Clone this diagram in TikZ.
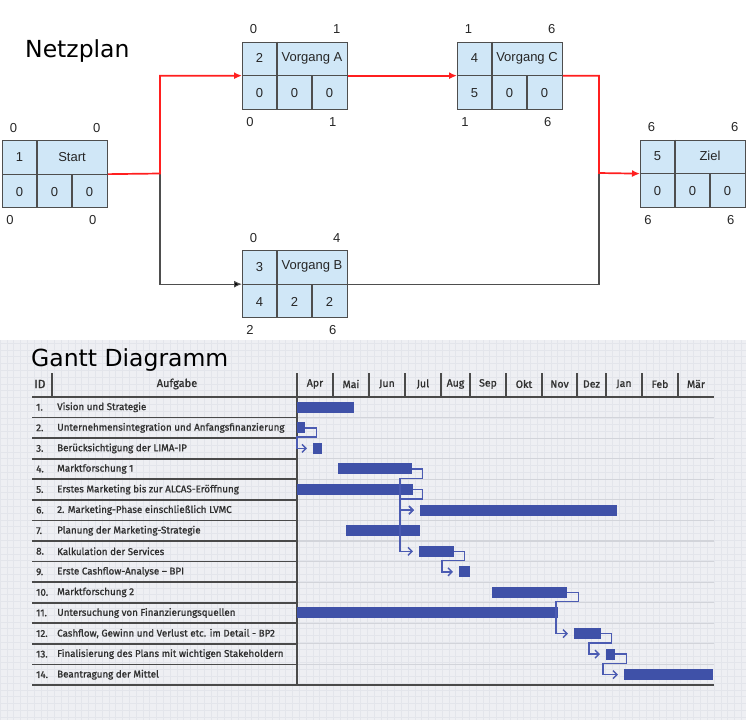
\documentclass[tikz,border=0pt]{standalone}
\usepackage{fontspec}
\usetikzlibrary{arrows.meta,calc}
\newfontfamily\titlefont{DejaVu Sans}
\newfontfamily\boxfont{Liberation Sans}
\newfontfamily\ganttfont{Fira Sans}[FakeBold=1.2]
\definecolor{boxfill}{HTML}{D0E7F7}
\definecolor{boxline}{HTML}{4E4E4E}
\definecolor{critred}{HTML}{FF1F1F}
\definecolor{barblue}{HTML}{3F51A8}
\definecolor{depblue}{HTML}{4B5BB2}
\definecolor{gbg}{HTML}{EEEFF3}
\definecolor{ggrid}{HTML}{E3E5EB}
\definecolor{growline}{HTML}{D2D4DA}
\definecolor{gdark}{HTML}{4A4A4A}
\definecolor{gtext}{HTML}{303030}
\begin{document}
\begin{tikzpicture}[
    x=1pt, y=-1pt,
    netbox/.style={
        rectangle,
        draw=boxline,
        fill=boxfill,
        line width=1.3pt,
        minimum width=104.5pt,
        minimum height=67pt,
        inner sep=0pt,
        anchor=north west
    },
    divider/.style={draw=boxline, line width=1.3pt},
    celltext/.style={font=\boxfont\fontsize{13}{15}\selectfont, text=black!85, inner sep=0pt},
    title/.style={font=\titlefont\fontsize{23.5}{26}\selectfont, inner sep=0pt},
    critical/.style={
        -{Latex[length=8pt,width=7pt,fill=critred]},
        draw=critred,
        line width=1.7pt
    },
    normal/.style={
        -{Latex[length=8pt,width=7pt,fill=black]},
        draw=boxline,
        line width=1.1pt
    },
    tabline/.style={gdark, line width=1.6pt},
    rowline/.style={growline, line width=1.2pt},
    gtxt/.style={font=\ganttfont\fontsize{9.8}{11}\selectfont, text=gtext, inner sep=0pt, anchor=west},
    month/.style={font=\ganttfont\fontsize{10.5}{12}\selectfont, text=gtext, inner sep=0pt},
    bar/.style={rectangle, fill=barblue, inner sep=0pt, minimum height=11pt, anchor=west},
    dep/.style={
        -{Straight Barb[length=4pt,width=8pt]},
        depblue,
        line width=1.4pt
    }
]
\useasboundingbox (0,0) rectangle (748,720);

% Netzplan
\node[title, anchor=west] (nptitle) at (25,51) {Netzplan};

\foreach \n/\x/\y/\id/\lab/\a/\b/\c/\tl/\tr/\bl/\br in {
    start/2/140/1/Start/0/0/0/0/0/0/0,
    va/242/41.5/2/Vorgang A/0/0/0/0/1/0/1,
    vb/242/250/3/Vorgang B/4/2/2/0/4/2/6,
    vc/457/41.5/4/Vorgang C/5/0/0/1/6/1/6,
    ziel/640/139.5/5/Ziel/0/0/0/6/6/6/6} {
  \node[netbox] (\n) at (\x,\y) {};
  \draw[divider] (\n.west) -- (\n.east);
  \draw[divider] ($(\n.north west)+(35,0)$) -- ($(\n.south west)+(35,0)$);
  \draw[divider] ($(\n.west)+(70,0)$) -- ($(\n.south west)+(70,0)$);
  \node[celltext] (\n-id) at ($(\n.north west)+(17.5,16.75)$) {\id};
  \node[celltext] (\n-lab) at ($(\n.north west)+(70,16.75)$) {\lab};
  \node[celltext] (\n-a) at ($(\n.south west)+(17.5,-16.75)$) {\a};
  \node[celltext] (\n-b) at ($(\n.south west)+(52.5,-16.75)$) {\b};
  \node[celltext] (\n-c) at ($(\n.south west)+(87.5,-16.75)$) {\c};
  \node[celltext] (\n-tl) at ($(\n.north west)+(11.5,-12)$) {\tl};
  \node[celltext] (\n-tr) at ($(\n.north east)+(-11,-12)$) {\tr};
  \node[celltext] (\n-bl) at ($(\n.south west)+(8,12)$) {\bl};
  \node[celltext] (\n-br) at ($(\n.south east)+(-15,12)$) {\br};
}

\coordinate (split) at (160,173.5);
\coordinate (merge) at (599,173);
\draw[normal] (split) |- (vb.west);
\draw[draw=boxline, line width=1.1pt] (vb.east) -| (merge);
\draw[critical] (start.east) -- (split) |- (va.west);
\draw[critical] (va.east) -- (vc.west);
\draw[critical] (vc.east) -| (merge) -- (ziel.west);

% Gantt Diagramm
\fill[gbg] (0,340) rectangle (746,720);
\foreach \gx in {0,6.8,...,746} \draw[ggrid, line width=0.5pt] (\gx,340) -- (\gx,720);
\foreach \gy in {343,349.8,...,720} \draw[ggrid, line width=0.5pt] (0,\gy) -- (746,\gy);

\node[title, anchor=west] (gtitle) at (31,360) {Gantt Diagramm};

\node[gtxt, font=\ganttfont\fontsize{12}{13}\selectfont] (hid) at (34,384) {ID};
\node[month, font=\ganttfont\fontsize{11}{12}\selectfont] (hauf) at (177,384) {Aufgabe};
\draw[tabline] (52,373) -- (52,397);
\foreach \m/\a/\b [count=\k] in {Apr/297/333, Mai/333/369, Jun/369/405, Jul/405/441,
    Aug/441/470, Sep/470/506, Okt/506/542, Nov/542/577, Dez/577/606,
    Jan/606/642, Feb/642/678, Mär/678/714} {
  \node[month] (m\k) at ({(\a+\b)/2},384) {\m};
  \ifnum\k<12 \draw[tabline] (\b,373) -- (\b,397); \fi
}

\foreach \i/\task in {1/Vision und Strategie,
    2/Unternehmensintegration und Anfangsfinanzierung,
    3/Berücksichtigung der LIMA-IP,
    4/Marktforschung 1,
    5/Erstes Marketing bis zur ALCAS-Eröffnung,
    6/2. Marketing-Phase einschließlich LVMC,
    7/Planung der Marketing-Strategie,
    8/Kalkulation der Services,
    9/Erste Cashflow-Analyse – BPI,
    10/Marktforschung 2,
    11/Untersuchung von Finanzierungsquellen,
    12/{Cashflow, Gewinn und Verlust etc. im Detail - BP2},
    13/Finalisierung des Plans mit wichtigen Stakeholdern,
    14/Beantragung der Mittel} {
  \pgfmathsetmacro\yc{397+(\i-0.5)*20.57}
  \pgfmathsetmacro\yb{397+\i*20.57}
  \node[gtxt] (id\i) at (36,\yc) {\i.};
  \node[gtxt] (t\i) at (57,\yc) {\task};
  \draw[rowline] (297,\yb) -- (714,\yb);
  \draw[tabline] (32,\yb) -- (297,\yb);
}
\draw[tabline] (32,397) -- (714,397);
\draw[tabline] (32,685) -- (714,685);
\draw[tabline] (297,373) -- (297,685);

% Balken
\foreach \i/\s/\e in {1/297/354, 2/297/305, 3/313/322, 4/338/412, 5/297/413,
    6/420/617, 7/346/420, 8/419/454, 9/459/470, 10/492/567, 11/297/558,
    12/574/601, 13/606/615, 14/624/713} {
  \pgfmathsetmacro\yc{397+(\i-0.5)*20.57}
  \pgfmathsetmacro\w{\e-\s}
  \node[bar, minimum width=\w pt] (b\i) at (\s,\yc) {};
}

% Abhaengigkeiten
\foreach \p/\q/\dx/\lx in {2/3/11/297, 4/6/10/400, 5/6/9/400, 5/8/9/400,
    8/9/10/442, 10/12/11/556, 12/13/10/589, 13/14/11/603} {
  \pgfmathsetmacro\yb{397+\p*20.57-1}
  \draw[dep] (b\p.east) -- ++(\dx,0) |- (\lx,\yb) |- ([xshift=-6pt]b\q.west);
}
\end{tikzpicture}
\end{document}
